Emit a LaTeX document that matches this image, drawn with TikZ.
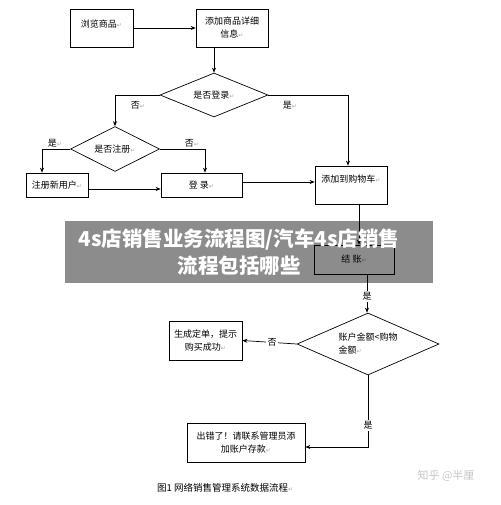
\documentclass[tikz,border=0pt]{standalone}
\usepackage{fontspec}
\setmainfont{Noto Sans CJK SC}
\newfontfamily\symfont{DejaVu Sans}
\usetikzlibrary{shapes.geometric,arrows.meta}
\newcommand{\retmark}{{\symfont\fontsize{6}{6}\selectfont\color{gray!70}↵}}
\begin{document}
\begin{tikzpicture}[x=1pt,y=-1pt,
  box/.style={draw,line width=0.7pt,align=center,inner sep=0pt,font=\fontsize{9}{13}\selectfont},
  dia/.style={draw,diamond,aspect=2.3,line width=0.7pt,align=center,inner sep=0pt,font=\fontsize{9}{13}\selectfont},
  lab/.style={fill=white,inner sep=1.5pt,font=\fontsize{9}{11}\selectfont},
  arr/.style={-{Stealth[length=5pt,width=4pt]},line width=0.7pt}]
\fill[white] (0,0) rectangle (500,505);
\useasboundingbox (0,0) rectangle (500,505);
\node[box,minimum width=63pt,minimum height=38pt] (browse) at (101.5,28) {浏览商品\retmark\\[-4pt]\mbox{}};
\node[box,minimum width=72pt,minimum height=38pt] (detail) at (232,28) {添加商品详细\\信息\retmark};
\node[dia,minimum width=108pt,minimum height=44pt] (login) at (214,95) {是否登录\retmark};
\node[dia,minimum width=89pt,minimum height=45pt] (reg) at (115,149) {是否注册\retmark};
\node[box,minimum width=62pt,minimum height=24pt] (newuser) at (57,185) {注册新用户\retmark};
\node[box,minimum width=81pt,minimum height=24pt] (signin) at (201.5,185) {登\ 录\retmark};
\node[box,minimum width=72pt,minimum height=38pt] (cart) at (351,185) {添加到购物车\retmark\\\mbox{}};
\node[box,minimum width=80pt,minimum height=29pt] (checkout) at (354,259.5) {结\ 账\retmark};
\node[dia,align=left,minimum width=142pt,minimum height=62pt] (amount) at (368,344) {账户金额<购物\\金额\retmark};
\node[box,minimum width=73pt,minimum height=39pt] (success) at (205.5,340.5) {生成定单，提示\\购买成功\retmark};
\node[box,minimum width=118pt,minimum height=39pt] (error) at (246,442.5) {出错了！请联系管理员添\\加账户存款\retmark};
\node[lab] (nologin) at (138,105) {否\retmark};
\node[lab] (yeslogin) at (290,105) {是\retmark};
\node[lab] (yesreg) at (55,143) {是\retmark};
\node[lab] (noreg) at (192,143) {否\retmark};
\draw[arr] (browse) -- (detail);
\draw[arr] (login.north |- detail.south) -- (login.north);
\draw[arr] (login.west) -| (reg.north);
\draw[arr] (login.east) -| ([xshift=-3pt]cart.north);
\draw[arr] (reg.west) -| ([xshift=-15pt]newuser.north);
\draw[arr] (reg.east) -| ([xshift=3.5pt]signin.north);
\draw[arr] ([yshift=-4pt]newuser.east) -- ([yshift=-4pt]signin.west);
\draw[arr] ([yshift=3pt]signin.east) -- ([yshift=3pt]cart.west);
\draw[arr] ([xshift=8pt]cart.south) -- ([xshift=8pt]cart.south |- checkout.north);
\draw[arr] ([xshift=13pt]checkout.south) -- node[lab,pos=0.57]{是} ([xshift=13pt]checkout.south |- amount.north);
\draw[arr] (amount.west) -- node[lab,pos=0.45]{否} (success.east);
\draw[arr] (amount.south) |- node[lab,pos=0.35]{是} ([yshift=-4.5pt]error.east);
\node[fill=black,fill opacity=0.45,minimum width=368pt,minimum height=62pt] (banner) at (249,252) {};
\node[text=white,align=center,font=\fontsize{20.5}{27}\selectfont\bfseries] (title) at (239,252)
  {4s店销售业务流程图/汽车4s店销售\\流程包括哪些};
\node[anchor=west,inner sep=0pt,font=\fontsize{9.5}{11}\selectfont] (caption) at (157,488) {图1 网络销售管理系统数据流程\retmark};
\node[text=gray!45,font=\fontsize{11}{13}\selectfont] (mark) at (446,476) {知乎 @半厘};
\end{tikzpicture}
\end{document}
